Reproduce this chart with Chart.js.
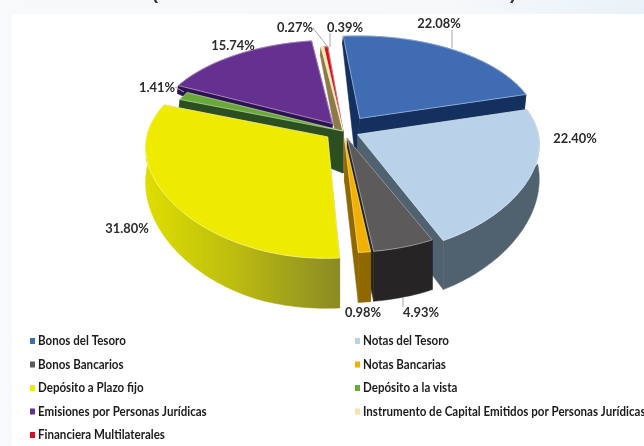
<!DOCTYPE html>
<html><head><meta charset="utf-8">
<script src="https://cdn.jsdelivr.net/npm/chart.js@4/dist/chart.umd.min.js"></script>
<style>html,body{margin:0;padding:0;background:#fff;overflow:hidden}
canvas{display:block;filter:blur(.55px)}</style></head>
<body><canvas id="c" width="644" height="446"></canvas>
<script>
const categories=["Bonos del Tesoro","Notas del Tesoro","Bonos Bancarios","Notas Bancarias","Depósito a Plazo fijo","Depósito a la vista","Emisiones por Personas Jurídicas","Instrumento de Capital Emitidos por Personas Jurídicas","Financiera Multilaterales"];
const shares=[22.08,22.40,4.93,0.98,31.80,1.41,15.74,0.27,0.39];
const topColors=["#3f6cb2","#b9d1e9","#5d5a5c","#f2b000","#eeea00","#69a93a","#65308f","#f6e6a6","#d3121f"];
const wallColors=["#14305f","#50626f","#262425","#8f6800","#8a8a26","#2b4f20","#2c1250","#8c7a48","#7d0a12"];
const explode=[30,16,15,15,19,0,18,0,0];
const frontStretch=[0,.15,.08,.08,.15,0,0,0,0];
const labelAt=[[439,23],[575,138],[421,312],[363,312],[127,228],[157,87],[233,45],[295,27],[345,27]];
const leaders=[[452,30,452,48],[403,298,403,307],null,null,null,[175,87,184,92],null,[313,28,328,47],[330,33,330,47]];
const R=180,D=1600,T=31*Math.PI/180,S=Math.sin(T),CT=Math.cos(T),APEX_DEPTH=42;
function depthAt(u,v){return v>=0?32+18*Math.min(1,v/R):Math.max(8,32+60*v/R+Math.max(0,u)*.05);}
function project(el,i,a,r,off,mid,z){
  const u=r*Math.cos(a)+off*Math.cos(mid),v=r*Math.sin(a)+off*Math.sin(mid);
  const k=D/(D-v*CT);
  const stretch=1+frontStretch[i]*Math.max(0,v/R);
  const depth=r===0?APEX_DEPTH:depthAt(u,v);
  const lean=v<0?depth*.1:0;
  return [el.x+u*k-z*lean,el.y+v*S*k*stretch+z*depth];
}
function trace(ctx,pts){ctx.beginPath();pts.forEach((p,i)=>i?ctx.lineTo(p[0],p[1]):ctx.moveTo(p[0],p[1]));}
function poly(ctx,pts,fill){trace(ctx,pts);ctx.closePath();ctx.fillStyle=fill;ctx.fill();ctx.strokeStyle=fill;ctx.lineWidth=.5;ctx.stroke();}
const pie3d={id:'pie3d',
 beforeDraw(chart){
  const ctx=chart.ctx;
  const g=ctx.createLinearGradient(0,0,644,0);
  g.addColorStop(0,'#f7f9fa');g.addColorStop(.7,'#f6f8fa');g.addColorStop(1,'#e9f2f8');
  ctx.fillStyle=g;ctx.fillRect(0,0,644,446);
  ctx.fillStyle='#fff';ctx.fillRect(12,14,632,432);
 },
 beforeDatasetsDraw(chart){
  const ctx=chart.ctx,arcs=chart.getDatasetMeta(0).data;
  const order=arcs.map((el,i)=>i).sort((p,q)=>{
    const m=i=>Math.sin((arcs[i].startAngle+arcs[i].endAngle)/2);return m(p)-m(q);});
  order.forEach(i=>{
    const el=arcs[i],off=el.options.offset,a0=el.startAngle,a1=el.endAngle,mid=(a0+a1)/2,r=el.outerRadius;
    const n=Math.max(2,Math.ceil((a1-a0)*40));
    const arcPts=z=>{const o=[];for(let j=0;j<=n;j++)o.push(project(el,i,a0+(a1-a0)*j/n,r,off,mid,z));return o;};
    const apex=z=>project(el,i,0,0,off,mid,z);
    const top=arcPts(0),bot=arcPts(1);
    poly(ctx,[apex(0),top[0],bot[0],apex(1)],wallColors[i]);
    poly(ctx,[apex(0),top[n],bot[n],apex(1)],wallColors[i]);
    let wall=wallColors[i];
    if(i===4){wall=ctx.createLinearGradient(145,0,340,0);
      wall.addColorStop(0,'#dede00');wall.addColorStop(.45,'#bdbd10');wall.addColorStop(1,'#8a8a26');}
    poly(ctx,top.concat(bot.slice().reverse()),wall);
    poly(ctx,[apex(0)].concat(top),topColors[i]);
    trace(ctx,[apex(0)].concat(top));ctx.closePath();
    ctx.strokeStyle='rgba(255,255,255,.5)';ctx.lineWidth=.8;ctx.stroke();
  });
  ctx.font="bold 14px Lato,'Liberation Sans',sans-serif";
  ctx.textAlign='center';ctx.textBaseline='middle';
  shares.forEach((v,i)=>{
    const l=leaders[i],t=v.toFixed(2)+'%';
    if(l){ctx.beginPath();ctx.moveTo(l[0],l[1]);ctx.lineTo(l[2],l[3]);ctx.strokeStyle='#a6a6a6';ctx.lineWidth=1;ctx.stroke();}
    ctx.fillStyle='#2b2b2b';ctx.fillText(t,labelAt[i][0],labelAt[i][1],ctx.measureText(t).width*.92);
  });
  ctx.font="bold 12.5px Lato,'Liberation Sans',sans-serif";
  ctx.textAlign='left';
  categories.forEach((c,i)=>{
    const col=i%2,row=Math.floor(i/2),x=col?355:30,y=341+row*23.5;
    ctx.fillStyle=topColors[i];ctx.fillRect(x,y-3,5,6);
    ctx.fillStyle='#1c1c1c';ctx.fillText(c,x+8,y,ctx.measureText(c).width*.925);
  });
  ctx.font="bold 18px 'Liberation Sans',sans-serif";ctx.fillStyle='#333';ctx.textAlign='center';ctx.textBaseline='alphabetic';
  ctx.fillText('(',155,-1);ctx.fillText(')',513,-1);
  return false;
 }};
new Chart(document.getElementById('c'),{type:'pie',
 data:{labels:categories,datasets:[{data:shares,backgroundColor:topColors,offset:explode,borderWidth:0}]},
 options:{responsive:false,animation:false,rotation:-5.3,radius:R,
  layout:{padding:{left:42,right:0,top:0,bottom:184}},
  plugins:{legend:{display:false},tooltip:{enabled:false}}},
 plugins:[pie3d]});
</script></body></html>
